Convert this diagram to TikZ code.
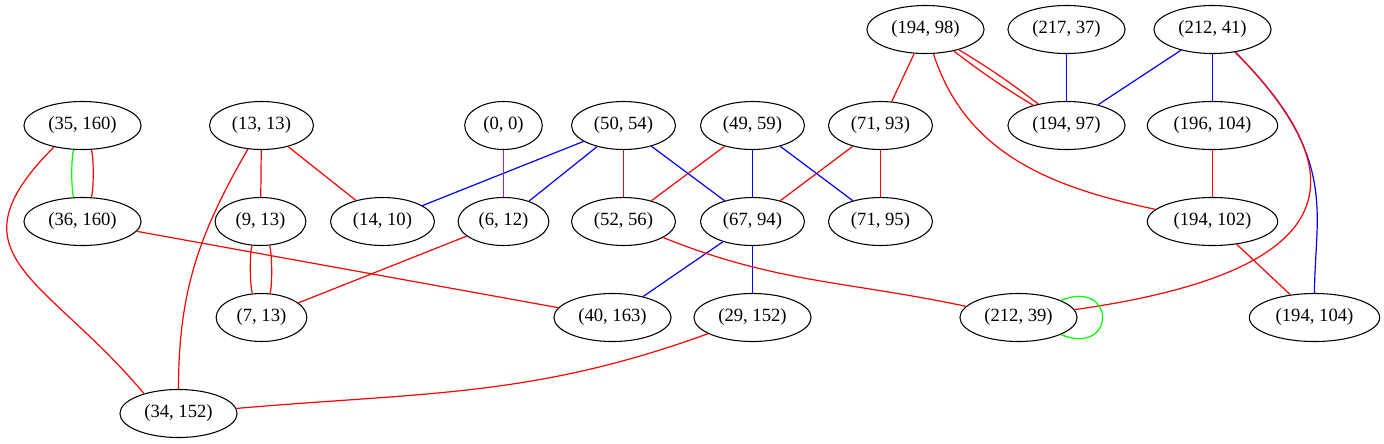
\documentclass[tikz,border=0pt]{standalone}
\usepackage{fontspec}
\setmainfont{Liberation Serif}
\usepackage{xcolor}
\usepackage{tikz}
\usetikzlibrary{shapes.geometric}
\definecolor{gvpurple}{HTML}{A020F0}

\tikzset{
  vtx/.style={draw, ellipse, line width=0.8pt, minimum height=36pt,
    inner xsep=5.4pt, inner ysep=2pt, font=\fontsize{14}{16}\selectfont},
  lnk/.style={line width=0.9pt}
}

\begin{document}
\begin{tikzpicture}[x=0.75pt, y=0.75pt]
    \useasboundingbox (-0.5,0.5) rectangle (1383.5,-442.5);
    % top row
    \node[vtx] (n194x98) at (925,-29) {(194, 98)};
    \node[vtx] (n217x37) at (1066,-29) {(217, 37)};
    \node[vtx] (n212x41) at (1212,-29) {(212, 41)};
    % second row
    \node[vtx] (n35x160) at (82,-125) {(35, 160)};
    \node[vtx] (n13x13) at (261,-125) {(13, 13)};
    \node[vtx] (n0x0) at (503,-125) {(0, 0)};
    \node[vtx] (n50x54) at (623,-125) {(50, 54)};
    \node[vtx] (n49x59) at (752,-125) {(49, 59)};
    \node[vtx] (n71x93) at (880,-125) {(71, 93)};
    \node[vtx] (n194x97) at (1066,-125) {(194, 97)};
    \node[vtx] (n196x104) at (1212,-125) {(196, 104)};
    % third row
    \node[vtx] (n36x160) at (82,-221) {(36, 160)};
    \node[vtx] (n9x13) at (260,-221) {(9, 13)};
    \node[vtx] (n14x10) at (382,-221) {(14, 10)};
    \node[vtx] (n6x12) at (503,-221) {(6, 12)};
    \node[vtx] (n52x56) at (623,-221) {(52, 56)};
    \node[vtx] (n67x94) at (752,-221) {(67, 94)};
    \node[vtx] (n71x95) at (880,-221) {(71, 95)};
    \node[vtx] (n194x102) at (1212,-221) {(194, 102)};
    % fourth row
    \node[vtx] (n7x13) at (261,-317) {(7, 13)};
    \node[vtx] (n40x163) at (612,-317) {(40, 163)};
    \node[vtx] (n29x152) at (752,-317) {(29, 152)};
    \node[vtx] (n212x39) at (1018,-317) {(212, 39)};
    \node[vtx] (n194x104) at (1314,-317) {(194, 104)};
    % bottom
    \node[vtx] (n34x152) at (178,-413) {(34, 152)};

    % straight links
    \foreach \a/\b in {n13x13/n9x13, n13x13/n14x10, n6x12/n7x13, n50x54/n52x56,
      n49x59/n52x56, n71x93/n67x94, n71x93/n71x95, n194x98/n71x93,
      n196x104/n194x102, n194x102/n194x104, n36x160/n40x163}
    \draw[lnk, red] (\a) -- (\b);
    \foreach \a/\b in {n50x54/n14x10, n50x54/n6x12, n50x54/n67x94, n49x59/n67x94,
      n49x59/n71x95, n217x37/n194x97, n212x41/n194x97, n212x41/n196x104,
      n67x94/n40x163, n67x94/n29x152}
    \draw[lnk, blue] (\a) -- (\b);
    \draw[lnk, gvpurple] (n0x0) -- (n6x12);

    % double links
    \draw[lnk, green] (n35x160) to[bend right=20, looseness=0.4] (n36x160);
    \draw[lnk, red] (n35x160) to[bend left=20, looseness=0.4] (n36x160);
    \draw[lnk, red] (n9x13) to[bend right=20, looseness=0.4] (n7x13);
    \draw[lnk, red] (n9x13) to[bend left=20, looseness=0.4] (n7x13);
    \draw[lnk, red] (n194x98) to[bend left=3] (n194x97);
    \draw[lnk, red] (n194x98) to[bend right=3] (n194x97);

    % curved links
    \draw[lnk, red] (n35x160.-143) to[out=-135, in=130, looseness=1.5] (n34x152.150);
    \draw[lnk, red] (n13x13) to[out=-120, in=90] (n34x152);
    \draw[lnk, red] (n29x152) to[out=-160, in=5] (n34x152);
    \draw[lnk, red] (n52x56) to[out=-22, in=168] (n212x39);
    \draw[lnk, red] (n194x98) to[out=-72, in=168] (n194x102);
    \draw[lnk, blue] (n212x41) to[out=-45, in=90, out looseness=1.5, in looseness=0.8] (n194x104);
    \draw[lnk, red] (n212x41) to[out=-45, in=8, out looseness=1.5, in looseness=2.3] (n212x39);
    \draw[lnk, green] (n212x39) to[out=22, in=-22, looseness=4.5] (n212x39);
\end{tikzpicture}
\end{document}
